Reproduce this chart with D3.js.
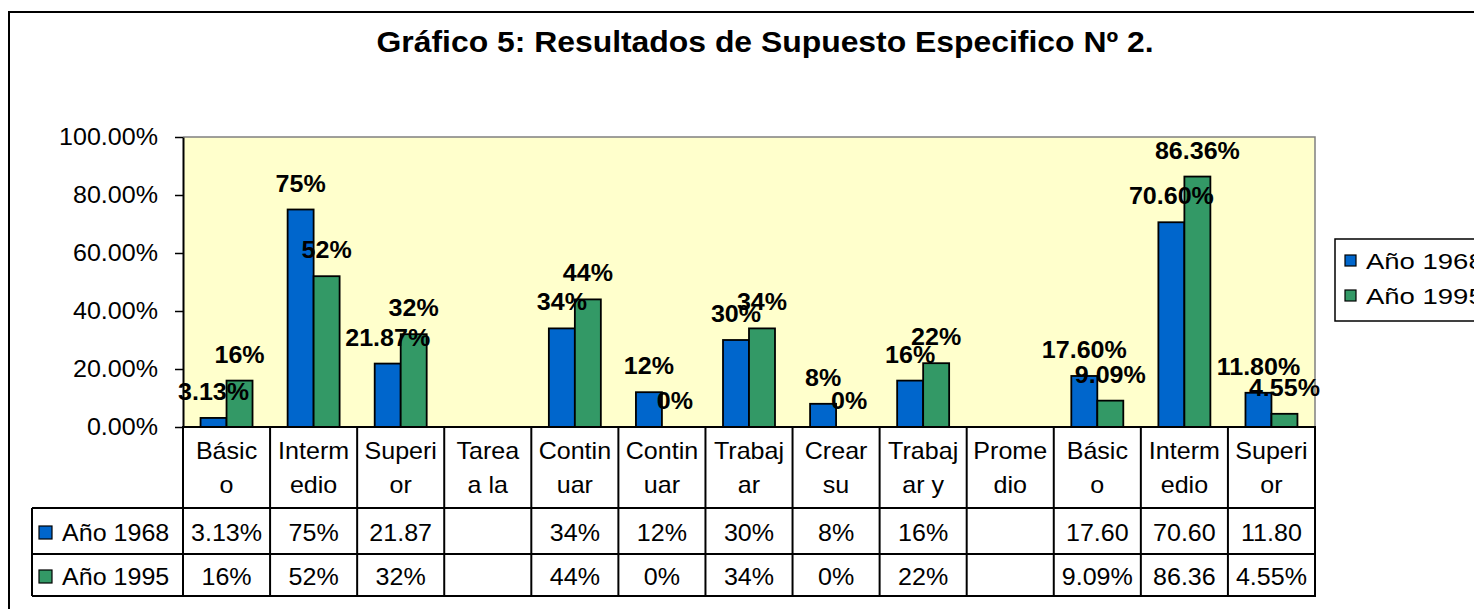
<!DOCTYPE html>
<html>
<head>
<meta charset="utf-8">
<script src="https://cdn.jsdelivr.net/npm/d3@7"></script>
<style>
  html, body { margin: 0; padding: 0; background: #fff; }
  svg { display: block; font-family: "Liberation Sans", Arial, sans-serif; }
</style>
</head>
<body>
<svg id="chart" width="1474" height="609"></svg>
<script>
// ---- Data ----
const title = "Gráfico 5: Resultados de Supuesto Especifico Nº 2.";
const categoryLines = [
  ["Básic", "o"], ["Interm", "edio"], ["Superi", "or"], ["Tarea", "a la"],
  ["Contin", "uar"], ["Contin", "uar"], ["Trabaj", "ar"], ["Crear", "su"],
  ["Trabaj", "ar y"], ["Prome", "dio"], ["Básic", "o"], ["Interm", "edio"], ["Superi", "or"]
];
const seriesNames = ["Año 1968", "Año 1995"];
const seriesColors = ["#0066CC", "#339966"];
const values1968 = [3.13, 75, 21.87, null, 34, 12, 30, 8, 16, null, 17.60, 70.60, 11.80];
const values1995 = [16, 52, 32, null, 44, 0, 34, 0, 22, null, 9.09, 86.36, 4.55];
const barLabels1968 = ["3.13%", "75%", "21.87%", "", "34%", "12%", "30%", "8%", "16%", "", "17.60%", "70.60%", "11.80%"];
const barLabels1995 = ["16%", "52%", "32%", "", "44%", "0%", "34%", "0%", "22%", "", "9.09%", "86.36%", "4.55%"];
const tableText1968 = ["3.13%", "75%", "21.87", "", "34%", "12%", "30%", "8%", "16%", "", "17.60", "70.60", "11.80"];
const tableText1995 = ["16%", "52%", "32%", "", "44%", "0%", "34%", "0%", "22%", "", "9.09%", "86.36", "4.55%"];
const yTicks = [0, 0.2, 0.4, 0.6, 0.8, 1.0];

const seriesValues = [values1968, values1995];
const seriesBarLabels = [barLabels1968, barLabels1995];
const seriesTable = [tableText1968, tableText1995];

// ---- Layout ----
const svg = d3.select("#chart");
const plot = { left: 183, right: 1315, top: 137, bottom: 427 };
const rowLines = [427, 508, 554, 596];
const tableLeft = 32;
const KX = 1.09;

function T(g, x, y, s, opt = {}) {
  const size = opt.size || 23, k = opt.k || KX;
  return g.append("text")
    .attr("transform", `translate(${x},${y}) scale(${k},1)`)
    .attr("font-size", size)
    .attr("font-weight", opt.weight || "normal")
    .attr("text-anchor", opt.anchor || "middle")
    .attr("fill", "#000")
    .text(s);
}

// outer border
svg.append("rect").attr("x", 9).attr("y", 12).attr("width", 1480).attr("height", 610)
  .attr("fill", "#fff").attr("stroke", "#000").attr("stroke-width", 2);

// title
T(svg, 765, 52, title, { size: 29, k: 1.1, weight: "bold" });

const idx = d3.range(categoryLines.length);
const x = d3.scaleBand().domain(idx).range([plot.left, plot.right]).padding(0);
const xs = d3.scaleBand().domain([0, 1]).range([0, x.bandwidth()]).paddingInner(0).paddingOuter(0.675);
const y = d3.scaleLinear().domain([0, 1]).range([plot.bottom, plot.top]);

// plot area
svg.append("rect").attr("x", plot.left).attr("y", plot.top)
  .attr("width", plot.right - plot.left).attr("height", plot.bottom - plot.top)
  .attr("fill", "#FFFFCC").attr("stroke", "none");
svg.append("path")
  .attr("d", `M${plot.left},${plot.top}H${plot.right}V${plot.bottom}`)
  .attr("fill", "none").attr("stroke", "#808080").attr("stroke-width", 1.5);

// y axis
const yAxis = d3.axisLeft(y).tickValues(yTicks).tickFormat(d3.format(".2%"))
  .tickSize(8).tickSizeOuter(0).tickPadding(15);
const ga = svg.append("g").attr("transform", `translate(${plot.left},0)`).call(yAxis);
ga.select(".domain").attr("stroke", "#000").attr("stroke-width", 2);
ga.selectAll(".tick line").attr("stroke", "#000").attr("stroke-width", 1.5);
ga.selectAll(".tick text")
  .attr("font-size", 23).attr("font-family", "Liberation Sans, Arial, sans-serif")
  .attr("fill", "#000").attr("transform", `scale(${KX},1)`);

// bars
const gBars = svg.append("g");
seriesValues.forEach((vals, s) => {
  gBars.selectAll(null).data(idx.filter(i => vals[i] !== null)).enter().append("rect")
    .attr("x", i => x(i) + xs(s))
    .attr("y", i => y(vals[i] / 100))
    .attr("width", xs.bandwidth())
    .attr("height", i => y(0) - y(vals[i] / 100))
    .attr("fill", seriesColors[s])
    .attr("stroke", "#000").attr("stroke-width", 1.8);
});

// bar labels
const gLab = svg.append("g");
seriesValues.forEach((vals, s) => {
  idx.filter(i => vals[i] !== null).forEach(i => {
    T(gLab, x(i) + xs(s) + xs.bandwidth() / 2, y(vals[i] / 100) - 18, seriesBarLabels[s][i], { weight: "bold" });
  });
});

// data table
const gT = svg.append("g");
gT.append("line").attr("x1", plot.left - 1).attr("x2", plot.right + 1).attr("y1", rowLines[0]).attr("y2", rowLines[0])
  .attr("stroke", "#000").attr("stroke-width", 2);
[1, 2, 3].forEach(r => {
  gT.append("line").attr("x1", tableLeft).attr("x2", plot.right + 1).attr("y1", rowLines[r]).attr("y2", rowLines[r])
    .attr("stroke", "#000").attr("stroke-width", 2);
});
d3.range(categoryLines.length + 1).forEach(i => {
  const xx = plot.left + i * x.step();
  gT.append("line").attr("x1", xx).attr("x2", xx).attr("y1", rowLines[0]).attr("y2", rowLines[3])
    .attr("stroke", "#000").attr("stroke-width", 2);
});
gT.append("line").attr("x1", tableLeft).attr("x2", tableLeft).attr("y1", rowLines[1]).attr("y2", rowLines[3])
  .attr("stroke", "#000").attr("stroke-width", 2);

idx.forEach(i => {
  const cx = x(i) + x.bandwidth() / 2;
  T(gT, cx, 459, categoryLines[i][0]);
  T(gT, cx, 493, categoryLines[i][1]);
});
const rowBase = [541, 585];
seriesTable.forEach((row, s) => {
  idx.forEach(i => {
    if (row[i]) T(gT, x(i) + x.bandwidth() / 2, rowBase[s], row[i]);
  });
  gT.append("rect").attr("x", 39).attr("y", rowBase[s] - 15).attr("width", 13).attr("height", 13)
    .attr("fill", seriesColors[s]).attr("stroke", "#000").attr("stroke-width", 1.2);
  T(gT, 62, rowBase[s], seriesNames[s], { anchor: "start" });
});

// legend
const gL = svg.append("g");
gL.append("rect").attr("x", 1335).attr("y", 239).attr("width", 200).attr("height", 82)
  .attr("fill", "#fff").attr("stroke", "#000").attr("stroke-width", 1.5);
seriesNames.forEach((n, s) => {
  const cy = 261 + s * 35;
  gL.append("rect").attr("x", 1345).attr("y", cy - 6).attr("width", 11).attr("height", 11)
    .attr("fill", seriesColors[s]).attr("stroke", "#000").attr("stroke-width", 1.2);
  T(gL, 1366, cy + 8, n, { size: 22, k: 1.25, anchor: "start" });
});
</script>
</body>
</html>
